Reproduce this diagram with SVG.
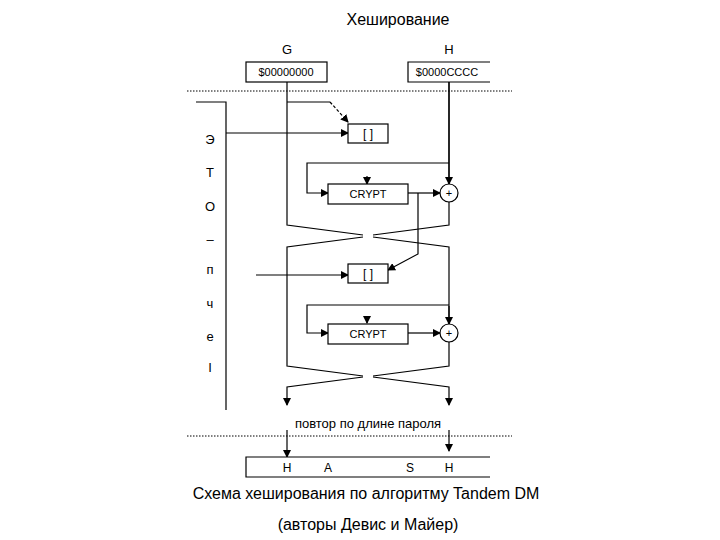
<svg xmlns="http://www.w3.org/2000/svg" width="720" height="540" viewBox="0 0 720 540">
<style>
text{font-family:"Liberation Sans",Arial,sans-serif;fill:#000}
.s{font-size:11px}
.l{stroke:#000;stroke-width:1.2;fill:none}
.d{stroke:#000;stroke-width:1;stroke-dasharray:1.5 1.5;fill:none}
.b{fill:#fff;stroke:#000;stroke-width:1.2}
</style>
<defs><marker id="a" markerWidth="8" markerHeight="8" refX="7" refY="4" orient="auto" markerUnits="userSpaceOnUse"><path d="M0,0L8,4L0,8z" fill="#000"/></marker></defs>
<rect width="720" height="540" fill="#fff"/>
<text x="398" y="25" font-size="16" text-anchor="middle">Хеширование</text>
<text x="287" y="54" font-size="13" text-anchor="middle">G</text>
<text x="449" y="54" font-size="13" text-anchor="middle">H</text>
<g id="side" font-size="13" text-anchor="middle">
<text x="210" y="144">Э</text><text x="210" y="177">Т</text><text x="210" y="211">О</text><text x="210" y="244">–</text><text x="210" y="274">п</text><text x="210" y="308">ч</text><text x="210" y="341">е</text><text x="210" y="372">І</text>
</g>
<g id="connectors">
<path class="d" d="M187 91H512M187 436H512"/>
<path class="l" d="M196 102H226V410"/>
<path class="l" d="M287 82V225L363 235M373 237L449 247V366L373 376M363 377L287 387V405" marker-end="url(#a)"/>
<path class="l" d="M449 82V225L373 235M363 237L287 247V366L363 376M373 377L449 387V405" marker-end="url(#a)"/>
<path class="l" d="M287 102H330"/>
<path class="l" d="M330 102L348 122" stroke-dasharray="3 2" marker-end="url(#a)"/>
<path class="l" d="M226 133H348" marker-end="url(#a)"/>
<path class="l" d="M449 82V184" marker-end="url(#a)"/>
<path class="l" d="M449 163H307V193H328" marker-end="url(#a)"/>
<path class="l" d="M367 176V184" marker-end="url(#a)"/>
<path class="l" d="M408 193H440" marker-end="url(#a)"/>
<path class="l" d="M418 193V254L388 270" marker-end="url(#a)"/>
<path class="l" d="M256 275H348" marker-end="url(#a)"/>
<path class="l" d="M449 306V324" marker-end="url(#a)"/>
<path class="l" d="M449 305H307V333H328" marker-end="url(#a)"/>
<path class="l" d="M367 316V323" marker-end="url(#a)"/>
<path class="l" d="M408 333H440" marker-end="url(#a)"/>
<path class="l" d="M287 430V457" marker-end="url(#a)"/>
<path class="l" d="M449 430V451" marker-end="url(#a)"/>
</g>
<g id="G"><rect class="b" x="246" y="62" width="81" height="20"/><text class="s" x="286" y="76" text-anchor="middle">$00000000</text></g>
<g id="H"><path class="b" d="M490 62H408V82H490"/><text class="s" x="447" y="76" text-anchor="middle">$0000CCCC</text></g>
<g id="br1"><rect class="b" x="348" y="124" width="40" height="19"/><text x="368" y="138" font-size="12" text-anchor="middle">[ ]</text></g>
<g id="crypt1"><rect class="b" x="328" y="184" width="80" height="20"/><text class="s" x="368" y="198" text-anchor="middle">CRYPT</text></g>
<g id="plus1"><circle class="b" cx="449" cy="193" r="9"/><text class="s" x="449" y="197" text-anchor="middle">+</text></g>
<g id="br2"><rect class="b" x="348" y="264" width="40" height="19"/><text x="368" y="278" font-size="12" text-anchor="middle">[ ]</text></g>
<g id="crypt2"><rect class="b" x="328" y="324" width="80" height="20"/><text class="s" x="368" y="338" text-anchor="middle">CRYPT</text></g>
<g id="plus2"><circle class="b" cx="449" cy="333" r="9"/><text class="s" x="449" y="337" text-anchor="middle">+</text></g>
<text x="368" y="428" font-size="13" text-anchor="middle">повтор по длине пароля</text>
<g id="out"><path class="b" d="M490 457H246V477H490"/>
<g font-size="12" text-anchor="middle"><text x="287" y="472">H</text><text x="328" y="472">A</text><text x="410" y="472">S</text><text x="449" y="472">H</text></g></g>
<text x="366" y="499" font-size="16" text-anchor="middle">Схема хеширования по алгоритму Tandem DM</text>
<text x="368" y="530" font-size="16" text-anchor="middle">(авторы Девис и Майер)</text>
</svg>
